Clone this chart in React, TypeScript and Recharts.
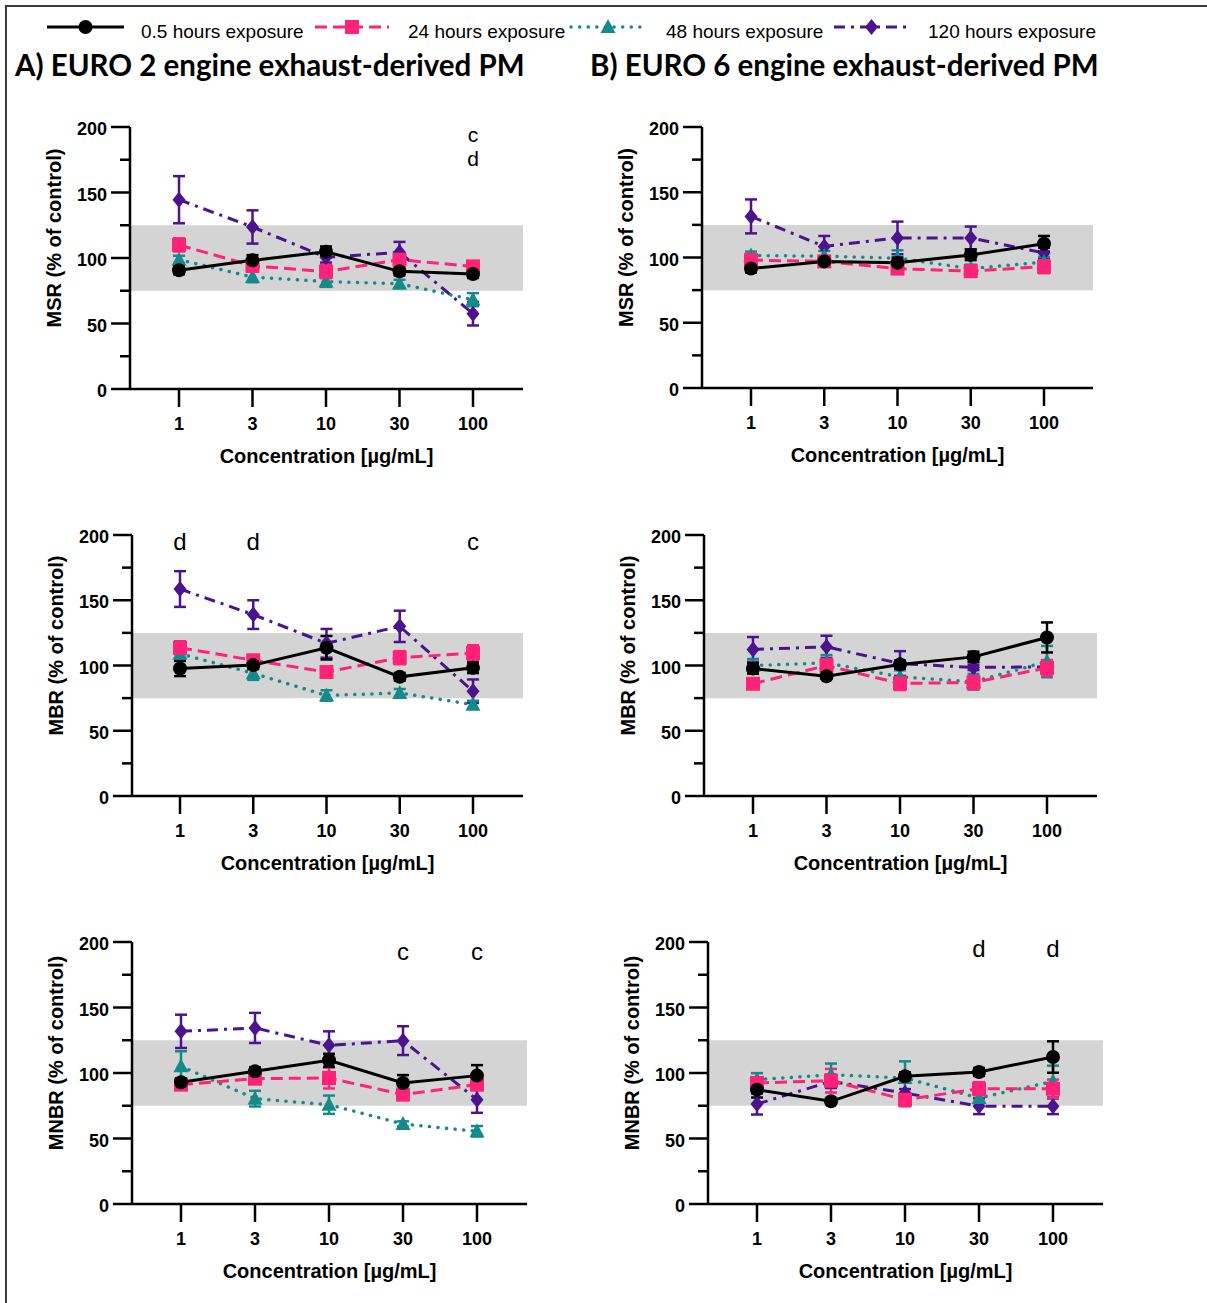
import React from "react";
import { ErrorBar, Line, LineChart, ReferenceArea, ReferenceDot, XAxis, YAxis } from "recharts";

// x categories (µg/mL) and y ticks (minor ticks every 25)
const CONC = ["1", "3", "10", "30", "100"];
const Y_TICKS = [0, 25, 50, 75, 100, 125, 150, 175, 200];
const SERIES_NAMES = ["0.5 hours exposure", "24 hours exposure", "48 hours exposure", "120 hours exposure"];

// each list holds the series in order 0.5 h, 24 h, 48 h, 120 h
const E2_MSR_MEAN = [
  [90.6, 98.2, 104.8, 89.8, 87.8],
  [110, 94, 89.6, 98.7, 93.6],
  [98.7, 85.5, 82, 80.4, 68.2],
  [144.5, 123.7, 100.5, 104.3, 57.5],
];
const E2_MSR_SD = [
  [3, 4, 4, 3, 3],
  [5, 4, 5, 4, 3],
  [3, 4, 4, 3, 5],
  [18, 12.7, 4, 8, 9],
];
const E6_MSR_MEAN = [
  [91.5, 97, 96, 102, 110.5],
  [98, 97, 91.5, 89.5, 93],
  [101.5, 101, 99.5, 91.5, 96.5],
  [131.5, 108.5, 115, 115, 103.5],
];
const E6_MSR_SD = [
  [3, 3, 4, 4, 6],
  [4, 3, 4, 4, 5],
  [3, 4, 6, 3, 4],
  [13, 8, 12.5, 8.7, 4],
];
const E2_MBR_MEAN = [
  [97.7, 100.3, 113.6, 91.3, 98.2],
  [113.6, 104, 95, 106, 109.5],
  [109, 94, 77, 79, 70],
  [158.6, 139, 117, 130, 80.3],
];
const E2_MBR_SD = [
  [5.8, 3, 9, 3, 4],
  [5, 3, 4, 5, 6],
  [4, 5, 4, 3, 3],
  [13.7, 11, 11, 12, 9],
];
const E6_MBR_MEAN = [
  [97.7, 91.8, 100.8, 106.6, 121.5],
  [86, 100, 86.2, 87, 98.2],
  [100, 102, 91.3, 87.5, 103],
  [112.3, 114.3, 101.5, 98.5, 99],
];
const E6_MBR_SD = [
  [4, 2, 3, 4, 11.5],
  [3, 5, 5, 5, 6],
  [5, 6, 5, 6, 12],
  [9.5, 8.5, 9.5, 2, 2],
];
const E2_MNBR_MEAN = [
  [92.9, 101.3, 109.7, 92.4, 98],
  [91.1, 95.7, 96.2, 83.5, 91.1],
  [105.1, 80.4, 75.8, 61.1, 55.5],
  [131.8, 134.4, 121.1, 124.7, 79.6],
];
const E2_MNBR_SD = [
  [3, 3, 5, 6, 8],
  [3, 4, 8, 4, 4],
  [11.5, 6, 7, 2, 4],
  [12.7, 11.5, 10.7, 11, 10],
];
const E6_MNBR_MEAN = [
  [87.3, 78.4, 97.5, 100.8, 112.2],
  [92.4, 94.1, 79.6, 88, 88],
  [94.9, 98.7, 96.2, 80.9, 93.6],
  [76.3, 93.6, 84.7, 74.6, 74.6],
];
const E6_MNBR_SD = [
  [6, 2, 3, 3, 12],
  [3, 9, 5, 5, 7],
  [5, 8.5, 12.7, 4, 12],
  [8, 5, 3, 6, 6],
];

// significance letters (several letters stacked at one point)
const E2_MSR_NOTES = [{ conc: "100", y: 193, text: ["c", "d"] }];
const E2_MBR_NOTES = [
  { conc: "1", y: 194, text: ["d"] },
  { conc: "3", y: 194, text: ["d"] },
  { conc: "100", y: 194, text: ["c"] },
];
const E2_MNBR_NOTES = [
  { conc: "30", y: 192, text: ["c"] },
  { conc: "100", y: 192, text: ["c"] },
];
const E6_MNBR_NOTES = [
  { conc: "30", y: 194, text: ["d"] },
  { conc: "100", y: 194, text: ["d"] },
];

const FONT = "Arial, 'Liberation Sans', sans-serif";
const COLORS = ["#000000", "#ff2277", "#168a8a", "#4b148e"];
const DASHES = [undefined, "12 6", "0.1 8.5", "11 6 3 6"];
const BAND = "#d4d4d4";

function Marker({ cx, cy, kind, color }: { cx: number; cy: number; kind: number; color: string }) {
  if (kind === 0) return <circle cx={cx} cy={cy} r={7} fill={color} />;
  if (kind === 1) return <rect x={cx - 7} y={cy - 7} width={14} height={14} fill={color} />;
  if (kind === 2)
    return <polygon points={`${cx},${cy - 8} ${cx + 7.5},${cy + 6} ${cx - 7.5},${cy + 6}`} fill={color} />;
  return <polygon points={`${cx},${cy - 8} ${cx + 6.5},${cy} ${cx},${cy + 8} ${cx - 6.5},${cy}`} fill={color} />;
}

function YTick(props: any) {
  const { x, y, payload } = props;
  const major = payload.value % 50 === 0;
  return (
    <g>
      <line x1={x - (major ? 19 : 10)} x2={x} y1={y} y2={y} stroke="#000" strokeWidth={2.5} />
      {major && (
        <text x={x - 23} y={y} dy="0.45em" textAnchor="end" fontFamily={FONT} fontWeight={700} fontSize={18} fill="#000">
          {payload.value}
        </text>
      )}
    </g>
  );
}

function NoteLabel({ viewBox, lines }: { viewBox?: any; lines: string[] }) {
  if (!viewBox) return null;
  const x = viewBox.x + (viewBox.width || 0) / 2;
  const y = viewBox.y + (viewBox.height || 0) / 2;
  const stacked = lines.length > 1;
  return (
    <text x={x} y={y} textAnchor="middle" fontFamily={FONT} fontSize={stacked ? 21 : 24} fill="#000">
      {lines.map((l, i) => (
        <tspan key={i} x={x} dy={i === 0 ? "0.3em" : 24}>
          {l}
        </tspan>
      ))}
    </text>
  );
}

interface PanelProps {
  left: number;
  top: number;
  width: number;
  height: number;
  padL: number;
  padR: number;
  mean: number[][];
  sd: number[][];
  yLabel: string;
  notes?: { conc: string; y: number; text: string[] }[];
}

function Panel({ left, top, width, height, padL, padR, mean, sd, yLabel, notes = [] }: PanelProps) {
  const YW = 110;
  const MT = 20;
  const MR = 10;
  const XH = 90;
  const step = (width - padL - padR) / (CONC.length - 1);
  const domain: [number, number] = [-padL / step, CONC.length - 1 + padR / step];
  const rows = CONC.map((c, i) => {
    const r: Record<string, number | string> = { x: i, conc: c };
    mean.forEach((s, k) => {
      r["m" + k] = s[i];
      r["e" + k] = sd[k][i];
    });
    return r;
  });

  return (
    <div style={{ position: "absolute", left: left - YW, top: top - MT }}>
      <LineChart
        width={YW + width + MR}
        height={MT + height + XH}
        data={rows}
        margin={{ top: MT, right: MR, left: 0, bottom: 0 }}
      >
        <XAxis
          dataKey="x"
          type="number"
          domain={domain}
          ticks={[0, 1, 2, 3, 4]}
          interval={0}
          allowDataOverflow
          tickFormatter={(v: number) => CONC[v]}
          height={XH}
          tickSize={18}
          tickMargin={10}
          axisLine={{ stroke: "#000", strokeWidth: 2.5 }}
          tickLine={{ stroke: "#000", strokeWidth: 2.5 }}
          tick={{ fill: "#000", fontSize: 18, fontWeight: 700, fontFamily: FONT }}
        />
        <YAxis
          type="number"
          domain={[0, 200]}
          ticks={Y_TICKS}
          interval={0}
          width={YW}
          tickSize={0}
          tickMargin={0}
          tickLine={false}
          axisLine={{ stroke: "#000", strokeWidth: 2.5 }}
          tick={<YTick />}
        />
        <ReferenceArea x1={domain[0]} x2={domain[1]} y1={75} y2={125} fill={BAND} fillOpacity={1} stroke="none" />
        {[3, 2, 1, 0].map((k) => (
          <Line
            key={k}
            dataKey={"m" + k}
            name={SERIES_NAMES[k]}
            stroke={COLORS[k]}
            strokeWidth={k === 2 ? 3.5 : 3}
            strokeDasharray={DASHES[k]}
            strokeLinecap={k === 2 ? "round" : "butt"}
            isAnimationActive={false}
            activeDot={false}
            dot={(p: any) => <Marker key={p.index} cx={p.cx} cy={p.cy} kind={k} color={COLORS[k]} />}
          >
            <ErrorBar dataKey={"e" + k} width={6} strokeWidth={2.5} stroke={COLORS[k]} direction="y" />
          </Line>
        ))}
        {notes.map((n, i) => (
          <ReferenceDot
            key={i}
            x={CONC.indexOf(n.conc)}
            y={n.y}
            r={0}
            fill="none"
            stroke="none"
            label={{ content: (p: any) => <NoteLabel viewBox={p.viewBox} lines={n.text} /> }}
          />
        ))}
      </LineChart>
      <svg
        width={YW + width + MR}
        height={MT + height + XH}
        style={{ position: "absolute", left: 0, top: 0, pointerEvents: "none" }}
      >
        <text
          transform={`translate(${YW - 76}, ${MT + height / 2 - 20}) rotate(-90)`}
          textAnchor="middle"
          dy="0.36em"
          fontFamily={FONT}
          fontWeight={700}
          fontSize={20}
        >
          {yLabel}
        </text>
        <text x={YW + width / 2} y={MT + height + 74} textAnchor="middle" fontFamily={FONT} fontWeight={700} fontSize={20}>
          Concentration [µg/mL]
        </text>
      </svg>
    </div>
  );
}

const LEGEND_POS = [
  { x0: 47, x1: 124, tx: 141 },
  { x0: 315, x1: 389, tx: 408 },
  { x0: 571, x1: 645, tx: 666 },
  { x0: 834, x1: 909, tx: 928 },
];

const TITLE_FONT = "Lato, 'Open Sans', sans-serif";

export default function App() {
  return (
    <div
      style={{
        position: "absolute",
        left: 0,
        top: 0,
        width: 1207,
        height: 1303,
        background: "#fff",
        overflow: "hidden",
      }}
    >
      <div
        style={{
          position: "absolute",
          left: 5,
          top: 5,
          right: -4,
          bottom: -4,
          borderTop: "2px solid #3a3a3a",
          borderLeft: "2px solid #3a3a3a",
        }}
      />
      <svg width={1207} height={90} style={{ position: "absolute", left: 0, top: 0 }}>
        {LEGEND_POS.map((p, k) => (
          <g key={k}>
            <line
              x1={p.x0}
              x2={p.x1}
              y1={27}
              y2={27}
              stroke={COLORS[k]}
              strokeWidth={k === 2 ? 3.5 : 3}
              strokeDasharray={DASHES[k]}
              strokeLinecap={k === 2 ? "round" : "butt"}
            />
            <Marker cx={(p.x0 + p.x1) / 2} cy={27} kind={k} color={COLORS[k]} />
            <text x={p.tx} y={38} fontFamily={FONT} fontSize={19} fill="#000">
              {SERIES_NAMES[k]}
            </text>
          </g>
        ))}
        <text x={15} y={76} fontFamily={TITLE_FONT} fontWeight={700} fontSize={29.5} fill="#000">
          A) EURO 2 engine exhaust-derived PM
        </text>
        <text x={590} y={76} fontFamily={TITLE_FONT} fontWeight={700} fontSize={29.5} fill="#000">
          B) EURO 6 engine exhaust-derived PM
        </text>
      </svg>

      <Panel left={130} top={127} width={393} height={262} padL={49} padR={50} mean={E2_MSR_MEAN} sd={E2_MSR_SD} yLabel="MSR (% of control)" notes={E2_MSR_NOTES} />
      <Panel left={702} top={127} width={391} height={261} padL={49} padR={49} mean={E6_MSR_MEAN} sd={E6_MSR_SD} yLabel="MSR (% of control)" />
      <Panel left={132} top={535} width={391} height={261} padL={48} padR={50} mean={E2_MBR_MEAN} sd={E2_MBR_SD} yLabel="MBR (% of control)" notes={E2_MBR_NOTES} />
      <Panel left={704} top={535} width={393} height={261} padL={49} padR={50} mean={E6_MBR_MEAN} sd={E6_MBR_SD} yLabel="MBR (% of control)" />
      <Panel left={132} top={942} width={395} height={262} padL={49} padR={50} mean={E2_MNBR_MEAN} sd={E2_MNBR_SD} yLabel="MNBR (% of control)" notes={E2_MNBR_NOTES} />
      <Panel left={708} top={942} width={395} height={262} padL={49} padR={50} mean={E6_MNBR_MEAN} sd={E6_MNBR_SD} yLabel="MNBR (% of control)" notes={E6_MNBR_NOTES} />
    </div>
  );
}
